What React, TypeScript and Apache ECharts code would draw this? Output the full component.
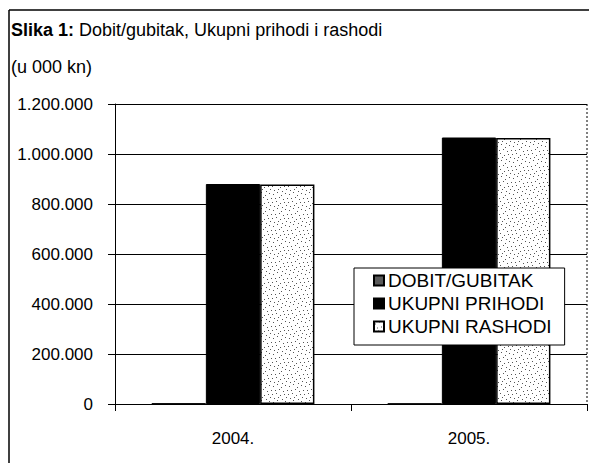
import React, { useEffect, useRef } from "react";
import * as echarts from "echarts";

const categories: string[] = ["2004.", "2005."];
const seriesNames: string[] = ["DOBIT/GUBITAK", "UKUPNI PRIHODI", "UKUPNI RASHODI"];
const dobitGubitak: number[] = [2000, 1500];
const ukupniPrihodi: number[] = [880000, 1066000];
const ukupniRashodi: number[] = [878000, 1064000];
const yTicks = { min: 0, max: 1200000, interval: 200000 };
const titleBold = "Slika 1:";
const titleRest = " Dobit/gubitak, Ukupni prihodi i rashodi";
const subtitle = "(u 000 kn)";

const FONT = "'Liberation Sans', Arial, sans-serif";

// fixed stipple dot positions for the texture (not data)
const stippleDots: [number, number][] = [
  [1, 2], [5, 0], [9, 3], [13, 1], [3, 6], [7, 5], [11, 7], [15, 6],
  [0, 10], [4, 9], [8, 11], [12, 10], [2, 14], [6, 13], [10, 15], [14, 13],
];

function makeStipple(): any {
  const c = document.createElement("canvas");
  c.width = 16;
  c.height = 16;
  const ctx = c.getContext("2d")!;
  ctx.fillStyle = "#ffffff";
  ctx.fillRect(0, 0, 16, 16);
  ctx.fillStyle = "#555555";
  stippleDots.forEach(([x, y]) => ctx.fillRect(x, y, 1, 1));
  return { image: c, repeat: "repeat", imageWidth: 16, imageHeight: 16 };
}

const fmt = (v: number) =>
  String(v).replace(/\B(?=(\d{3})+(?!\d))/g, ".");

export default function App() {
  const ref = useRef<HTMLDivElement>(null);
  useEffect(() => {
    if (!ref.current) return;
    const chart = echarts.init(ref.current, undefined, { renderer: "svg" });
    const stipple = makeStipple();
    const option: any = {
      animation: false,
      backgroundColor: "#ffffff",
      textStyle: { fontFamily: FONT, color: "#000" },
      title: [
        {
          text: "{b|" + titleBold + "}" + titleRest,
          left: 11,
          top: 21,
          padding: 0,
          textStyle: {
            fontFamily: FONT,
            fontSize: 18,
            fontWeight: "normal",
            color: "#000",
            rich: {
              b: { fontFamily: FONT, fontSize: 18, fontWeight: "bold", color: "#000" },
            },
          },
        },
        {
          text: subtitle,
          left: 11,
          top: 58,
          padding: 0,
          textStyle: { fontFamily: FONT, fontSize: 18, fontWeight: "normal", color: "#000" },
        },
      ],
      grid: { left: 115, right: 2, top: 104, bottom: 59, containLabel: false },
      legend: {
        orient: "vertical",
        left: 354,
        top: 268,
        padding: [3, 13, 9, 19],
        itemGap: 4,
        itemWidth: 10,
        itemHeight: 10,
        icon: "rect",
        backgroundColor: "#fff",
        borderColor: "#000",
        borderWidth: 1,
        textStyle: { fontFamily: FONT, fontSize: 19, color: "#000", padding: [0, 0, 0, -1] },
        data: seriesNames,
      },
      xAxis: {
        type: "category",
        data: categories,
        boundaryGap: true,
        axisLine: { lineStyle: { color: "#000", width: 1 } },
        axisTick: { show: true, length: 7, lineStyle: { color: "#000" } },
        axisLabel: { fontFamily: FONT, fontSize: 17, color: "#000", margin: 26 },
        splitLine: { show: false },
      },
      yAxis: {
        type: "value",
        min: yTicks.min,
        max: yTicks.max,
        interval: yTicks.interval,
        axisLine: { show: true, lineStyle: { color: "#000", width: 1 } },
        axisTick: { show: true, length: 7, lineStyle: { color: "#000" } },
        axisLabel: {
          fontFamily: FONT,
          fontSize: 17,
          color: "#000",
          margin: 22,
          formatter: (v: number) => fmt(v),
        },
        splitLine: { show: true, lineStyle: { color: "#000", width: 1 } },
      },
      series: [
        {
          name: seriesNames[0],
          type: "bar",
          data: dobitGubitak,
          barGap: "0%",
          barCategoryGap: "31%",
          itemStyle: { color: "#5a5a5a", borderColor: "#000", borderWidth: 1 },
        },
        {
          name: seriesNames[1],
          type: "bar",
          data: ukupniPrihodi,
          barGap: "0%",
          barCategoryGap: "31%",
          itemStyle: { color: "#000", borderColor: "#000", borderWidth: 1 },
        },
        {
          name: seriesNames[2],
          type: "bar",
          data: ukupniRashodi,
          barGap: "0%",
          barCategoryGap: "31%",
          itemStyle: { color: stipple, borderColor: "#000", borderWidth: 1.5 },
        },
      ],
      graphic: [
        {
          type: "line",
          shape: { x1: 9, y1: 10, x2: 589, y2: 10 },
          style: { stroke: "#000", lineWidth: 1.5 },
          silent: true,
        },
        {
          type: "line",
          shape: { x1: 9, y1: 10, x2: 9, y2: 463 },
          style: { stroke: "#000", lineWidth: 1.5 },
          silent: true,
        },
        {
          type: "line",
          shape: { x1: 587, y1: 104, x2: 587, y2: 404 },
          style: { stroke: "#000", lineWidth: 1, lineDash: [2, 2] },
          silent: true,
        },
      ],
    };
    chart.setOption(option);
    return () => chart.dispose();
  }, []);
  return (
    <div
      ref={ref}
      style={{ position: "fixed", left: 0, top: 0, width: 589, height: 463 }}
    />
  );
}
